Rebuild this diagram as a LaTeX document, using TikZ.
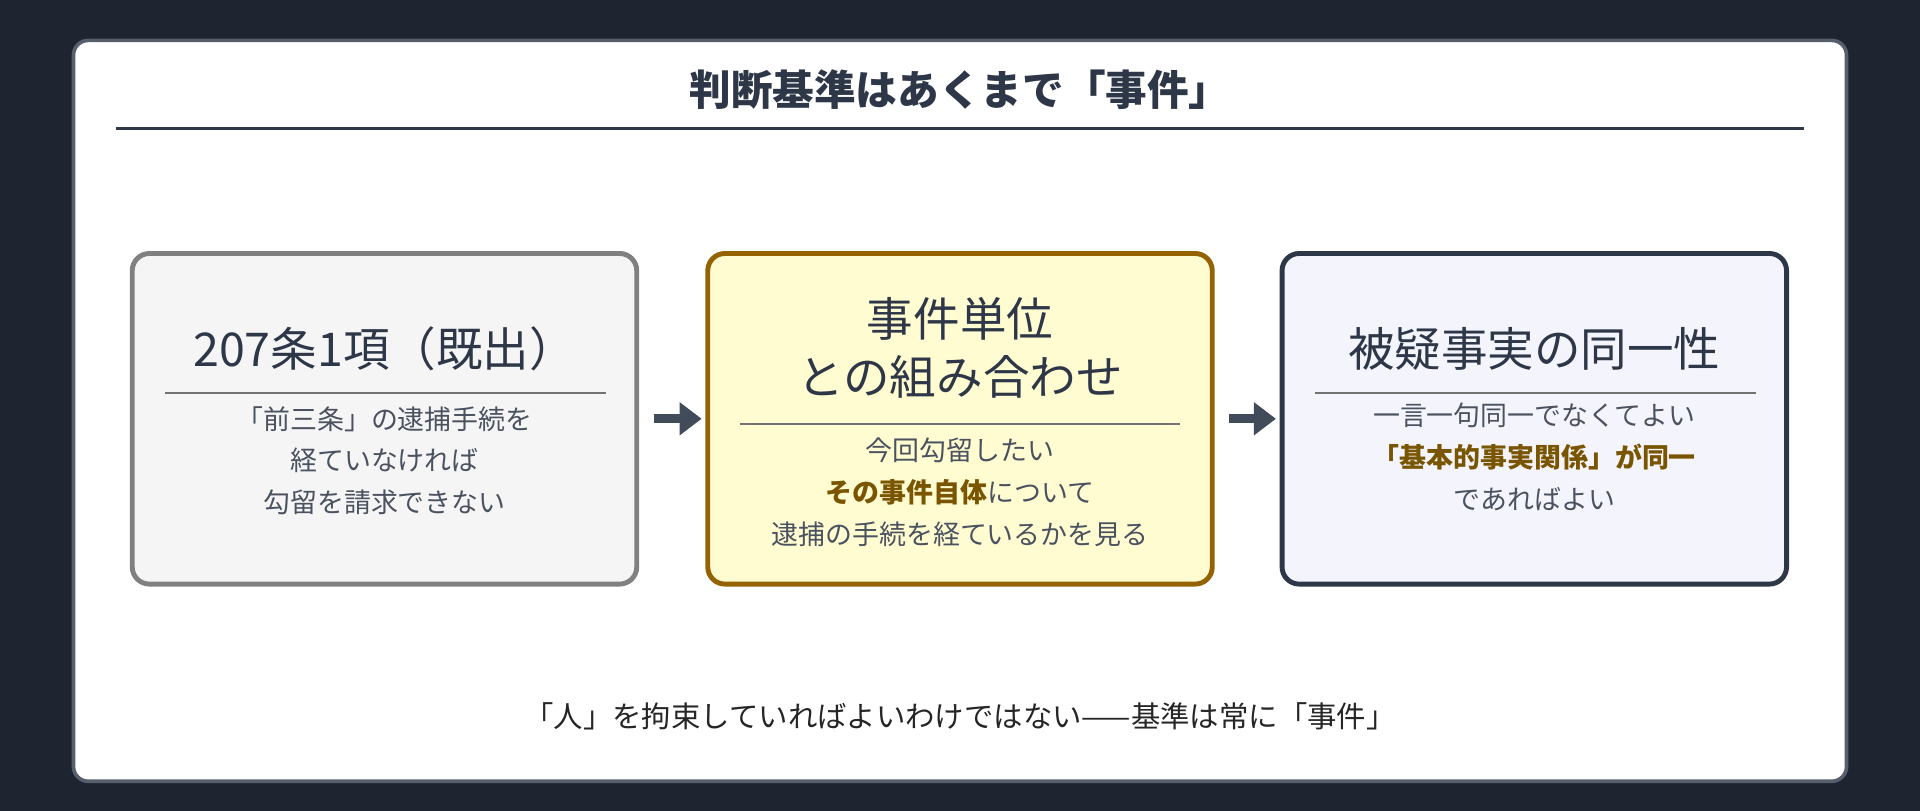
\documentclass[tikz,border=0pt]{standalone}
\usepackage{fontspec}
\setmainfont{Noto Sans CJK JP}
\usetikzlibrary{arrows.meta, positioning}
\definecolor{bgdark}{HTML}{1E2530}
\definecolor{inkdark}{HTML}{2D3748}
\definecolor{bodygray}{HTML}{4A5260}
\definecolor{goldline}{HTML}{946300}
\definecolor{goldtext}{HTML}{7A5500}
\tikzset{
  panel/.style={rectangle, rounded corners=14pt, line width=4pt, minimum width=412pt, minimum height=270pt},
  headtext/.style={font=\fontsize{38}{46}\selectfont, text=inkdark, align=center},
  bodytext/.style={font=\fontsize{22}{34}\selectfont, text=bodygray, align=center},
  rule/.style={line width=1.5pt, draw=gray!90!black},
  arrow/.style={line width=7pt, draw=inkdark!90, -{Triangle[length=18pt, width=26pt]}, shorten <=12pt, shorten >=3pt}
}
\begin{document}
\begin{tikzpicture}[x=1pt, y=-1pt]
\fill[bgdark] (0,0) rectangle (1568,662);
\draw[fill=white, draw=inkdark!80, line width=3pt, rounded corners=12pt] (60,33) rectangle (1508,638);

\node[font=\bfseries\fontsize{34}{40}\selectfont, text=inkdark] (title) at (784,73) {判断基準はあくまで「事件」};
\draw[line width=2pt, inkdark] (95,105) -- (1473,105);

% three panels
\node[panel, fill=gray!8, draw=gray!75!black!80] (b1) at (314,342) {};
\node[panel, fill=orange!15!yellow!18, draw=goldline] (b2) at (784,342) {};
\node[panel, fill=gray!25!blue!5, draw=inkdark] (b3) at (1253,342) {};

\node[headtext] (h1) at (314,285) {207条1項（既出）};
\draw[rule] (135,321) -- (495,321);
\node[bodytext] (t1) at (314,376) {「前三条」の逮捕手続を\\経ていなければ\\勾留を請求できない};

\node[headtext, font=\fontsize{38}{48}\selectfont] (h2) at (784,284) {事件単位\\との組み合わせ};
\draw[rule] (604,346) -- (964,346);
\node[bodytext] (t2) at (784,402) {今回勾留したい\\{\bfseries\color{goldtext}その事件自体}について\\逮捕の手続を経ているかを見る};

\node[headtext] (h3) at (1253,285) {被疑事実の同一性};
\draw[rule] (1074,321) -- (1434,321);
\node[bodytext] (t3) at (1253,373) {一言一句同一でなくてよい\\{\bfseries\color{goldtext}「基本的事実関係」が同一}\\であればよい};

\draw[arrow] (b1) -- (b2);
\draw[arrow] (b2) -- (b3);

\node[font=\fontsize{24}{30}\selectfont, text=black!85] (foot) at (784,585) {「人」を拘束していればよいわけではない——基準は常に「事件」};
\end{tikzpicture}
\end{document}
